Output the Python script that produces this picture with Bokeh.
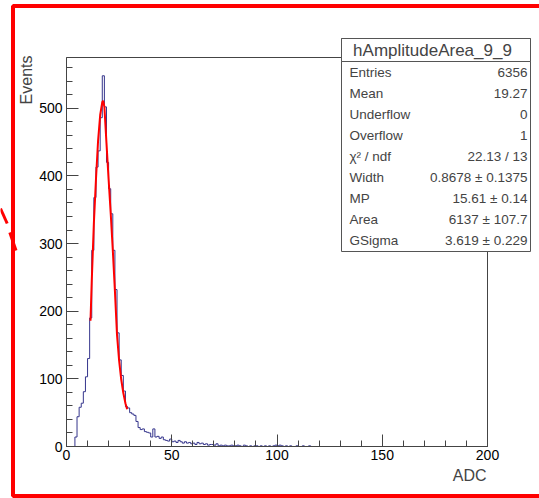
import math
from bokeh.plotting import figure
from bokeh.models import (SingleIntervalTicker, Range1d, BoxAnnotation, Label, PolyAnnotation)
from bokeh.embed import file_html
from bokeh.resources import INLINE

# ---------------- data ----------------
bin_edges = list(range(0, 201))
counts = [
    0, 0, 0, 0, 14, 44, 58, 64, 81, 103,
    130, 190, 290, 368, 413, 437, 486, 548, 502, 420,
    381, 344, 290, 232, 168, 128, 105, 82, 59, 57,
    50, 48, 46, 37, 28, 25, 26, 22, 21, 20,
    14, 26, 14, 15, 12, 14, 10, 9, 8, 11,
    7, 8, 6, 9, 7, 5, 7, 5, 6, 4,
    5, 3, 6, 4, 5, 3, 4, 2, 3, 3,
    2, 4, 1, 2, 1, 2, 1, 1, 2, 1,
    1, 2, 1, 0, 2, 1, 0, 1, 0, 1,
    1, 0, 1, 0, 1, 0, 1, 0, 1, 2,
    1, 2, 1, 0, 1, 0, 1, 0, 0, 1,
    0, 0, 1, 0, 0, 1, 0, 0, 0, 0,
    0, 0, 0, 0, 0, 0, 0, 0, 0, 0,
    0, 0, 0, 0, 0, 0, 0, 0, 0, 0,
    0, 0, 0, 0, 0, 0, 0, 0, 0, 0,
    0, 0, 0, 0, 0, 0, 0, 0, 0, 0,
    0, 0, 0, 0, 0, 0, 0, 0, 0, 0,
    0, 0, 0, 0, 0, 0, 0, 0, 0, 0,
    0, 0, 0, 0, 0, 0, 0, 0, 0, 0,
    0, 0, 0, 0, 0, 0, 0, 0, 0, 0,
]
fit_x = [11.4, 12, 13, 14, 15, 16, 17, 17.4, 18, 19, 20, 21, 22, 23, 24, 25, 26, 27, 28, 28.8]
fit_y = [186, 245, 330, 395, 452, 490, 509, 511, 502, 448, 395, 345, 290, 230, 165, 127, 99, 79, 64, 55]

x_min, x_max = 0, 200
y_min, y_max = 0, 575

hist_title = "hAmplitudeArea_9_9"
stat_names = ["Entries", "Mean", "Underflow", "Overflow", "\u03c7\u00b2 / ndf",
              "Width", "MP", "Area", "GSigma"]
stat_values = ["6356", "19.27", "0", "1", "22.13 / 13",
               "0.8678 \u00b1 0.1375", "15.61 \u00b1 0.14", "6137 \u00b1 107.7",
               "3.619 \u00b1 0.229"]
x_label = "ADC"
y_label = "Events"

# ---------------- layout (pixels) ----------------
FONT = "Liberation Sans"
W, H = 539, 498
FL, FR, FT, FB = 66, 487, 57, 446   # ROOT frame box in canvas pixels

ppx = (FR - FL) / (x_max - x_min)
ppy = (FB - FT) / (y_max - y_min)
xr = Range1d(x_min - FL / ppx, x_max + (W - FR) / ppx)
yr = Range1d(y_min - (H - FB) / ppy, y_max + FT / ppy)

p = figure(width=W, height=H, x_range=xr, y_range=yr,
           output_backend="svg", toolbar_location=None,
           min_border=0, min_border_left=0, min_border_right=0,
           min_border_top=0, min_border_bottom=0)
p.xgrid.visible = False
p.ygrid.visible = False
p.background_fill_color = "white"
p.border_fill_color = "white"
p.outline_line_color = None

p.xaxis.ticker = SingleIntervalTicker(interval=50, num_minor_ticks=5)
p.yaxis.ticker = SingleIntervalTicker(interval=100, num_minor_ticks=5)
p.xaxis.fixed_location = y_min
p.yaxis.fixed_location = x_min
p.xaxis.bounds = (x_min, x_max)
p.yaxis.bounds = (y_min, y_max)
for ax in (p.xaxis[0], p.yaxis[0]):
    ax.major_tick_in = 12
    ax.major_tick_out = 0
    ax.minor_tick_in = 6
    ax.minor_tick_out = 0
    ax.axis_line_color = "#444444"
    ax.major_tick_line_color = "#444444"
    ax.minor_tick_line_color = "#444444"
    ax.major_label_text_font = FONT
    ax.major_label_text_font_size = "14px"
    ax.major_label_text_color = "black"
p.yaxis.major_label_standoff = 4
p.xaxis.major_label_standoff = 3


def sx(xp):
    return xp


def sy(yp):
    return H - yp


# ROOT frame box
p.add_layout(BoxAnnotation(left=x_min, right=x_max, bottom=y_min, top=y_max,
                           fill_alpha=0, line_color="#444444", line_alpha=1, line_width=1))

# histogram outline and fit
p.step(x=bin_edges, y=counts + [counts[-1]], mode="after",
       line_color="#35358c", line_width=1)
p.line(fit_x, fit_y, line_color="#ff0000", line_width=2)

# axis titles
p.add_layout(Label(x=sx(26), y=sy(55), x_units="screen", y_units="screen", text=y_label,
                   angle=math.pi / 2, text_align="right", text_baseline="middle",
                   text_font=FONT, text_font_size="16px"))
p.add_layout(Label(x=sx(486), y=sy(475), x_units="screen", y_units="screen", text=x_label,
                   text_align="right", text_baseline="middle",
                   text_font=FONT, text_font_size="16px"))

# ---------------- stats box ----------------
SU = dict(left_units="screen", right_units="screen", top_units="screen", bottom_units="screen")
BOX_L, BOX_R, BOX_T, BOX_B, TITLE_B = 341, 530, 38, 251, 61
p.add_layout(BoxAnnotation(left=sx(BOX_L), right=sx(BOX_R), top=sy(BOX_T), bottom=sy(BOX_B),
                           fill_color="white", fill_alpha=1, line_color="#555555",
                           line_alpha=1, line_width=1, level="overlay", **SU))
p.add_layout(BoxAnnotation(left=sx(BOX_L), right=sx(BOX_R), top=sy(BOX_T), bottom=sy(TITLE_B),
                           fill_color="white", fill_alpha=1, line_color="#555555",
                           line_alpha=1, line_width=1, level="overlay", **SU))
p.add_layout(Label(x=sx(432), y=sy(49.5), x_units="screen", y_units="screen",
                   text=hist_title, text_align="center", text_baseline="middle",
                   text_font=FONT, text_font_size="17px", level="overlay"))
ROW_H = 21
for i, (name, val) in enumerate(zip(stat_names, stat_values)):
    yc = TITLE_B + ROW_H * (i + 0.5)
    p.add_layout(Label(x=sx(349), y=sy(yc), x_units="screen", y_units="screen", text=name,
                       text_align="left", text_baseline="middle", text_font=FONT,
                       text_font_size="13.5px", level="overlay"))
    p.add_layout(Label(x=sx(527), y=sy(yc), x_units="screen", y_units="screen", text=val,
                       text_align="right", text_baseline="middle", text_font=FONT,
                       text_font_size="13.5px", level="overlay"))

# ---------------- red hand-drawn frame ----------------
p.add_layout(BoxAnnotation(left=sx(12.5), right=sx(580), top=sy(5.5), bottom=sy(495.5),
                           fill_alpha=0, line_color="#ff0000", line_alpha=1, line_width=4,
                           level="overlay", **SU))
p.add_layout(PolyAnnotation(xs=[sx(0), sx(6.7)], ys=[sy(208), sy(223)],
                            xs_units="screen", ys_units="screen", fill_alpha=0,
                            line_color="#ff0000", line_alpha=1, line_width=3, level="overlay"))
p.add_layout(PolyAnnotation(xs=[sx(9.3), sx(15.5)], ys=[sy(232), sy(250)],
                            xs_units="screen", ys_units="screen", fill_alpha=0,
                            line_color="#ff0000", line_alpha=1, line_width=3, level="overlay"))

open("out.html", "w").write(file_html(p, INLINE))
